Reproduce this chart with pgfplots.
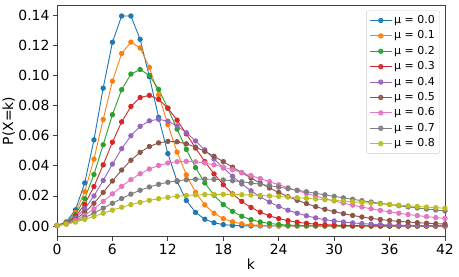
\documentclass[border=0pt]{standalone}
\usepackage{fontspec}
\setmainfont{DejaVu Sans}
\usepackage{pgfplots}
\pgfplotsset{compat=1.18}
\usepackage{pgfplotstable}
\definecolor{c0}{HTML}{1F77B4}
\definecolor{c1}{HTML}{FF7F0E}
\definecolor{c2}{HTML}{2CA02C}
\definecolor{c3}{HTML}{D62728}
\definecolor{c4}{HTML}{9467BD}
\definecolor{c5}{HTML}{8C564B}
\definecolor{c6}{HTML}{E377C2}
\definecolor{c7}{HTML}{7F7F7F}
\definecolor{c8}{HTML}{BCBD22}
\pgfplotstableread{
k m0 m1 m2 m3 m4 m5 m6 m7 m8
0 0.000335 0.000335 0.000335 0.000335 0.000335 0.000335 0.000335 0.000335 0.000335
1 0.002684 0.002428 0.002197 0.001988 0.001799 0.001628 0.001473 0.001333 0.001206
2 0.010735 0.009009 0.007556 0.006333 0.005306 0.004443 0.003718 0.003110 0.002601
3 0.028626 0.022827 0.018155 0.014404 0.011403 0.009007 0.007101 0.005587 0.004389
4 0.057252 0.044427 0.034240 0.026226 0.019974 0.015133 0.011411 0.008566 0.006404
5 0.091604 0.070808 0.053979 0.040645 0.030267 0.022314 0.016302 0.011812 0.008494
6 0.122138 0.096232 0.073993 0.055693 0.041140 0.029887 0.021391 0.015107 0.010540
7 0.139587 0.114660 0.090586 0.069217 0.051383 0.037193 0.026328 0.018273 0.012459
8 0.139587 0.122224 0.100981 0.079459 0.059979 0.043682 0.030837 0.021181 0.014199
9 0.124077 0.118366 0.104004 0.085398 0.066248 0.048970 0.034723 0.023747 0.015733
10 0.099262 0.105405 0.100088 0.086820 0.069891 0.052843 0.037875 0.025926 0.017049
11 0.072190 0.087150 0.090810 0.084177 0.070941 0.055245 0.040250 0.027702 0.018150
12 0.048127 0.067439 0.078245 0.078338 0.069678 0.056239 0.041856 0.029081 0.019046
13 0.029616 0.049166 0.064411 0.070351 0.066529 0.055970 0.042741 0.030083 0.019752
14 0.016924 0.033961 0.050911 0.061231 0.061984 0.054632 0.042975 0.030740 0.020284
15 0.009026 0.022332 0.038802 0.051838 0.056528 0.052441 0.042645 0.031085 0.020660
16 0.004513 0.014038 0.028618 0.042820 0.050590 0.049609 0.041839 0.031156 0.020898
17 0.002124 0.008467 0.020490 0.034602 0.044530 0.046335 0.040645 0.030989 0.021015
18 0.000944 0.004915 0.014280 0.027415 0.038620 0.042793 0.039147 0.030621 0.021027
19 0.000397 0.002754 0.009709 0.021337 0.033056 0.039132 0.037421 0.030085 0.020948
20 0.000159 0.001493 0.006455 0.016341 0.027960 0.035469 0.035534 0.029412 0.020793
21 0.000061 0.000785 0.004203 0.012333 0.023399 0.031896 0.033545 0.028627 0.020572
22 0.000022 0.000401 0.002685 0.009184 0.019394 0.028481 0.031502 0.027757 0.020297
23 0.000008 0.000199 0.001685 0.006756 0.015935 0.025270 0.029446 0.026821 0.019976
24 0.000003 0.000097 0.001041 0.004915 0.012990 0.022294 0.027409 0.025839 0.019618
25 0.000001 0.000046 0.000633 0.003539 0.010512 0.019566 0.025418 0.024826 0.019231
26 0 0.000021 0.000379 0.002524 0.008451 0.017091 0.023492 0.023795 0.018819
27 0 0.000010 0.000225 0.001784 0.006753 0.014865 0.021646 0.022759 0.018390
28 0 0.000004 0.000131 0.001251 0.005366 0.012879 0.019890 0.021725 0.017947
29 0 0.000002 0.000076 0.000871 0.004242 0.011118 0.018231 0.020703 0.017494
30 0 0.000001 0.000043 0.000602 0.003337 0.009567 0.016673 0.019698 0.017035
31 0 0 0.000025 0.000413 0.002614 0.008207 0.015215 0.018716 0.016574
32 0 0 0.000014 0.000282 0.002040 0.007021 0.013859 0.017760 0.016112
33 0 0 0.000008 0.000191 0.001585 0.005991 0.012602 0.016834 0.015651
34 0 0 0.000004 0.000129 0.001228 0.005100 0.011441 0.015939 0.015194
35 0 0 0.000002 0.000087 0.000948 0.004332 0.010372 0.015077 0.014741
36 0 0 0.000001 0.000058 0.000730 0.003673 0.009390 0.014250 0.014295
37 0 0 0 0.000039 0.000560 0.003107 0.008490 0.013457 0.013856
38 0 0 0 0.000026 0.000429 0.002625 0.007668 0.012700 0.013425
39 0 0 0 0.000017 0.000327 0.002213 0.006918 0.011977 0.013003
40 0 0 0 0.000011 0.000249 0.001864 0.006235 0.011289 0.012589
41 0 0 0 0.000007 0.000189 0.001567 0.005615 0.010634 0.012186
42 0 0 0 0.000005 0.000144 0.001316 0.005052 0.010012 0.011792
}\gp
\begin{document}
\begin{tikzpicture}
\begin{axis}[
  at={(0,0)}, anchor=south west,
  scale only axis, width=388bp, height=231bp,
  xmin=0, xmax=42, ymin=-0.00698, ymax=0.14656,
  xtick={0,6,12,18,24,30,36,42},
  ytick={0,0.02,0.04,0.06,0.08,0.10,0.12,0.14},
  tick pos=left, tick align=outside, major tick length=4bp,
  tick style={black!75, line width=0.8bp},
  axis line style={black!75, line width=0.8bp},
  /pgf/number format/assume math mode=true,
  ticklabel style={font=\fontsize{14}{16}\selectfont},
  yticklabel style={/pgf/number format/fixed, /pgf/number format/fixed zerofill, /pgf/number format/precision=2},
  scaled y ticks=false,
  xlabel={k}, ylabel={P(X=k)},
  label style={font=\fontsize{14}{16}\selectfont},
  xlabel style={yshift=3bp},
  ylabel style={yshift=-3.5bp},
  every axis plot/.append style={line width=0.9bp, mark=*, mark size=2.2bp, mark options={solid}},
  legend style={at={(0.987,0.978)}, anchor=north east, draw=black!20, rounded corners=2bp,
    fill=white, fill opacity=0.8, text opacity=1,
    font=\fontsize{11}{13}\selectfont,
    nodes={inner ysep=1.5bp, text height=8.2bp, text depth=2.2bp}, row sep=2bp,
    inner xsep=3bp, inner ysep=3bp},
  legend cell align=left,
  legend image code/.code={\draw[mark repeat=2,mark phase=2,#1] plot coordinates {(0bp,0bp) (11bp,0bp) (22bp,0bp)};},
]
\addplot[c0, mark options={fill=c0, draw=c0}] table[x=k,y=m0]{\gp};
\addplot[c1, mark options={fill=c1, draw=c1}] table[x=k,y=m1]{\gp};
\addplot[c2, mark options={fill=c2, draw=c2}] table[x=k,y=m2]{\gp};
\addplot[c3, mark options={fill=c3, draw=c3}] table[x=k,y=m3]{\gp};
\addplot[c4, mark options={fill=c4, draw=c4}] table[x=k,y=m4]{\gp};
\addplot[c5, mark options={fill=c5, draw=c5}] table[x=k,y=m5]{\gp};
\addplot[c6, mark options={fill=c6, draw=c6}] table[x=k,y=m6]{\gp};
\addplot[c7, mark options={fill=c7, draw=c7}] table[x=k,y=m7]{\gp};
\addplot[c8, mark options={fill=c8, draw=c8}] table[x=k,y=m8]{\gp};
\legend{μ = 0.0, μ = 0.1, μ = 0.2, μ = 0.3, μ = 0.4, μ = 0.5, μ = 0.6, μ = 0.7, μ = 0.8}
\end{axis}
\pgfresetboundingbox
\path[use as bounding box] (-57bp,-40.5bp) rectangle (402bp,236.5bp);
\end{tikzpicture}
\end{document}
